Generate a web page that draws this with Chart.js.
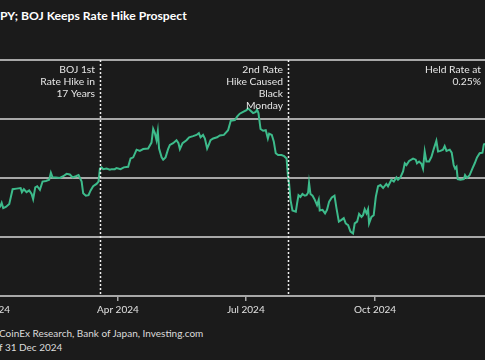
<!DOCTYPE html>
<html>
<head>
<meta charset="utf-8">
<script src="https://cdn.jsdelivr.net/npm/chart.js@4.4.1/dist/chart.umd.min.js"></script>
<style>
  html, body { margin: 0; padding: 0; background: #1b1b1b; width: 485px; height: 360px; overflow: hidden; }
  #wrap { position: relative; width: 485px; height: 360px; overflow: hidden; }
  #title { position: absolute; left: 0; top: 8px; color: #ffffff; font: bold 12.2px Lato, sans-serif; white-space: nowrap; }
  #cv { position: absolute; left: -40px; top: 0; }
  #foot { position: absolute; left: -1px; top: 327px; color: #dcdcdc; font: 10px Lato, sans-serif; line-height: 13.5px; white-space: nowrap; }
</style>
</head>
<body>
<div id="wrap">
  <div id="title">PY; BOJ Keeps Rate Hike Prospect</div>
  <canvas id="cv" width="560" height="320"></canvas>
  <div id="foot">CoinEx Research, Bank of Japan, Investing.com<br>f 31 Dec 2024</div>
</div>
<script>
// Day of year (0 = 1 Jan 2024) and USD/JPY close
const dayOfYear = [7.0, 8.3, 9.4, 11.3, 13.7, 16.1, 18.9, 21.8, 22.7, 24.1, 26.0, 27.9, 29.6, 30.7, 32.2, 33.6, 35.5, 37.4, 39.8, 42.1,
  43.3, 44.5, 46.9, 49.7, 52.1, 54.5, 56.8, 58.8, 61.1, 63.0, 65.2, 66.3, 68.2, 70.1, 71.6, 73.4, 75.8, 77.2, 78.2, 79.4,
  80.5, 82.9, 85.3, 86.5, 88.8, 90.0, 92.9, 95.2, 98.3, 100.0, 101.9, 104.3, 106.6, 109.0, 112.5, 114.9, 116.1, 117.3, 118.5, 119.4,
  120.3, 122.1, 123.2, 124.9, 126.7, 128.0, 130.3, 132.7, 134.1, 135.1, 137.0, 139.8, 141.7, 144.5, 146.9, 148.6, 149.8, 151.6, 152.9, 154.5,
  155.9, 156.9, 158.8, 161.6, 163.5, 166.4, 169.4, 171.3, 174.2, 175.8, 177.7, 180.1, 182.5, 183.6, 185.4, 187.2, 189.1, 190.0, 191.0, 192.5,
  194.3, 196.2, 197.7, 198.6, 200.5, 201.9, 203.3, 205.0, 207.4, 209.3, 211.0, 212.1, 212.8, 213.8, 215.2, 217.6, 218.5, 219.5, 220.9, 222.3,
  224.0, 225.2, 226.3, 227.0, 228.0, 229.5, 231.1, 232.7, 233.9, 234.6, 236.6, 238.4, 239.8, 241.3, 243.2, 245.1, 246.5, 248.2, 250.1, 251.7,
  253.1, 254.8, 256.5, 258.3, 259.5, 261.2, 262.6, 264.3, 265.4, 266.6, 267.9, 269.0, 269.7, 271.4, 273.0, 274.5, 276.1, 277.8, 279.7, 282.0,
  283.2, 285.6, 287.3, 289.2, 290.3, 292.0, 293.9, 295.1, 296.3, 298.2, 301.0, 302.9, 303.8, 305.3, 307.0, 308.1, 309.3, 310.5, 312.4, 314.1,
  315.7, 317.6, 318.8, 320.5, 322.3, 323.5, 324.8, 327.1, 328.5, 329.9, 330.9, 331.9, 332.8, 334.7, 337.1, 338.0, 339.4, 341.3, 343.2, 344.9,
  346.5, 348.4, 350.4, 351.3, 352.0];
const usdJpy = [145.0, 145.8, 144.9, 145.1, 145.6, 148.1, 148.2, 148.3, 147.6, 148.1, 147.6, 147.9, 147.3, 146.4, 148.4, 148.6, 148.0, 149.4, 149.5, 149.7,
  150.9, 150.1, 150.1, 150.0, 150.3, 150.7, 150.6, 150.1, 150.3, 150.5, 149.4, 147.4, 147.0, 147.1, 147.9, 148.6, 149.0, 149.4, 151.6, 151.8,
  151.5, 151.6, 151.4, 151.5, 151.5, 151.7, 151.5, 151.8, 151.9, 153.3, 153.5, 154.8, 154.6, 154.9, 155.0, 156.0, 158.3, 157.6, 156.4, 157.9,
  155.0, 153.5, 153.1, 153.5, 154.9, 155.6, 155.9, 156.4, 155.9, 154.9, 155.9, 156.4, 156.9, 157.1, 157.3, 157.6, 156.9, 157.3, 156.7, 155.0,
  155.8, 156.4, 156.7, 156.9, 157.2, 157.3, 158.1, 159.7, 159.8, 160.4, 160.9, 161.2, 161.5, 161.8, 161.4, 161.0, 161.2, 161.6, 161.0, 158.3,
  158.0, 158.1, 156.7, 157.5, 157.3, 156.2, 154.2, 153.9, 153.9, 153.7, 153.3, 150.0, 149.1, 146.3, 144.5, 144.3, 145.7, 147.1, 146.8, 147.3,
  147.0, 147.1, 147.5, 149.2, 147.3, 147.0, 146.3, 145.4, 146.3, 144.5, 144.6, 144.0, 144.6, 146.0, 146.7, 147.0, 144.9, 142.6, 142.9, 143.2,
  142.3, 142.0, 140.9, 140.6, 142.3, 142.6, 143.9, 143.4, 143.7, 144.7, 144.0, 144.7, 142.3, 143.4, 143.7, 146.8, 148.6, 148.8, 148.3, 149.0,
  148.6, 149.7, 149.4, 150.1, 149.7, 150.1, 151.1, 152.5, 152.2, 152.9, 153.3, 153.1, 152.5, 152.8, 152.4, 151.6, 154.5, 152.8, 152.8, 153.6,
  154.9, 156.3, 154.5, 154.6, 154.8, 155.4, 154.6, 154.8, 154.3, 152.2, 151.6, 151.9, 149.8, 149.7, 149.8, 150.5, 150.0, 150.5, 151.6, 152.5,
  153.5, 154.2, 154.3, 155.6, 155.9];

const tickDays = [0, 91, 182, 274];
const tickLabels = ['Jan 2024', 'Apr 2024', 'Jul 2024', 'Oct 2024'];
const yTicks = [130, 140, 150, 160, 170];

const eventDays = [78, 212, 353];
const eventLabels = [
  ['BOJ 1st', 'Rate Hike in', '17 Years'],
  ['2nd Rate', 'Hike Caused', 'Black', 'Monday'],
  ['Held Rate at', '0.25%']
];

const FONT = 'Lato, sans-serif';

const eventPlugin = {
  id: 'eventLines',
  afterDatasetsDraw(chart) {
    const { ctx, chartArea, scales } = chart;
    const x = scales.x;
    ctx.save();
    eventDays.forEach((d, i) => {
      const px = Math.round(x.getPixelForValue(d)) + 0.5;
      ctx.strokeStyle = '#eeeeee';
      ctx.lineWidth = 1.5;
      ctx.setLineDash([2, 2]);
      ctx.beginPath();
      ctx.moveTo(px, chartArea.top);
      ctx.lineTo(px, chartArea.bottom);
      ctx.stroke();
      ctx.setLineDash([]);
      ctx.fillStyle = '#e6e6e6';
      ctx.font = '10.3px ' + FONT;
      ctx.textAlign = 'right';
      ctx.textBaseline = 'middle';
      eventLabels[i].forEach((t, j) => ctx.fillText(t, px - 5.5, chartArea.top + 9.5 + j * 12));
    });
    ctx.restore();
  }
};

new Chart(document.getElementById('cv'), {
  type: 'line',
  data: {
    datasets: [{
      data: dayOfYear.map((d, i) => ({ x: d, y: usdJpy[i] })),
      borderColor: '#3dbb8b',
      borderWidth: 2,
      pointRadius: 0,
      tension: 0,
      fill: false
    }]
  },
  options: {
    responsive: false,
    animation: false,
    layout: { padding: { left: 30, right: 17, top: 60, bottom: 0 } },
    plugins: { legend: { display: false }, tooltip: { enabled: false }, title: { display: false } },
    scales: {
      x: {
        type: 'linear',
        min: 0,
        max: 365,
        afterBuildTicks(scale) { scale.ticks = tickDays.map(v => ({ value: v })); },
        afterFit(scale) { scale.height = 24; },
        ticks: {
          autoSkip: false,
          maxRotation: 0,
          color: '#e0e0e0',
          font: { family: FONT, size: 10 },
          padding: 3,
          callback: (v) => { const k = tickDays.indexOf(v); return k >= 0 ? tickLabels[k] : ''; }
        },
        grid: { drawOnChartArea: false, drawTicks: true, tickLength: 5, color: '#a8a8a8', lineWidth: 1.5 },
        border: { display: true, color: '#a8a8a8', width: 2 }
      },
      y: {
        min: 130,
        max: 170,
        afterBuildTicks(scale) { scale.ticks = yTicks.map(v => ({ value: v })); },
        ticks: { display: false },
        grid: { color: '#a8a8a8', lineWidth: 2, drawTicks: false },
        border: { display: false }
      }
    }
  },
  plugins: [eventPlugin]
});
</script>
</body>
</html>
